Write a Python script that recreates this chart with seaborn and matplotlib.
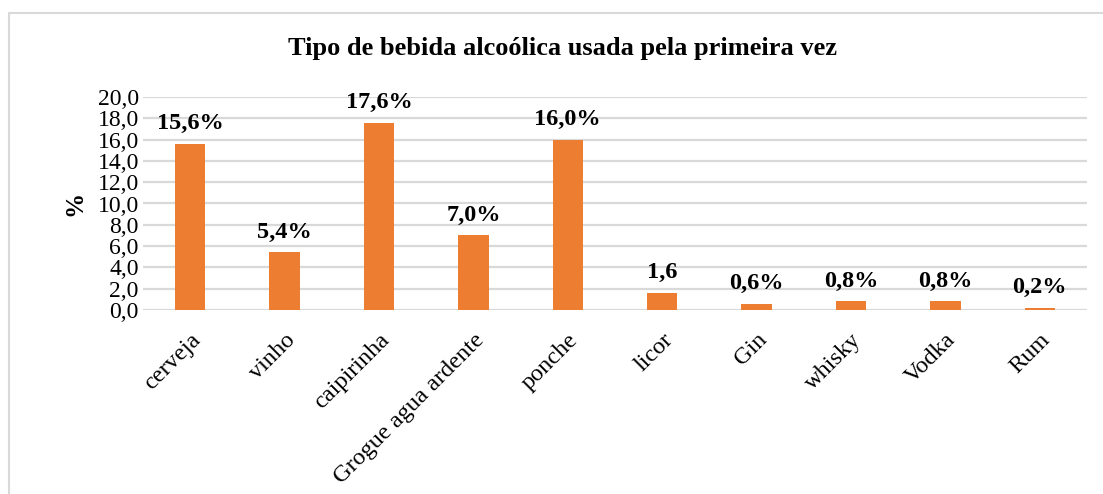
import matplotlib
matplotlib.use("Agg")
import matplotlib.pyplot as plt
import seaborn as sns
import pandas as pd
from matplotlib.lines import Line2D

categories = ["cerveja", "vinho", "caipirinha", "Grogue agua ardente", "ponche",
              "licor", "Gin", "whisky", "Vodka", "Rum"]
values = [15.6, 5.4, 17.6, 7.0, 16.0, 1.6, 0.6, 0.8, 0.8, 0.2]
value_labels = ["15,6%", "5,4%", "17,6%", "7,0%", "16,0%", "1,6", "0,6%", "0,8%", "0,8%", "0,2%"]
yticks = [0, 2, 4, 6, 8, 10, 12, 14, 16, 18, 20]
ytick_labels = ["0,0", "2,0", "4,0", "6,0", "8,0", "10,0", "12,0", "14,0", "16,0", "18,0", "20,0"]
title = "Tipo de bebida alcoólica usada pela primeira vez"

sns.set_theme(style="white")
plt.rcParams["font.family"] = ["Liberation Serif", "DejaVu Serif"]

df = pd.DataFrame({"cat": categories, "val": values})

W, H = 1103, 494
fig = plt.figure(figsize=(W / 100, H / 100), dpi=100)
ax = fig.add_axes([143 / W, 1 - 310 / H, (1087 - 143) / W, (310 - 97) / H])

sns.barplot(data=df, x="cat", y="val", color="#ED7D31", saturation=1, width=0.32, ax=ax,
            edgecolor="none")

ax.set_ylim(0, 20)
ax.set_xlim(-0.5, len(categories) - 0.5)
ax.set_yticks(yticks)
ax.set_yticklabels(ytick_labels, fontsize=17, color="black")
ax.yaxis.grid(True, color="#d9d9d9", linewidth=1.6)
ax.set_axisbelow(True)
for s in ax.spines.values():
    s.set_visible(False)
ax.tick_params(axis="y", length=0, pad=3)
ax.tick_params(axis="x", length=0, pad=14)
ax.set_xticks(range(len(categories)))
ax.set_xticklabels(categories, rotation=45, ha="right", rotation_mode="anchor", fontsize=17.5,
                   color="black")
ax.set_xlabel("")
ax.set_ylabel("%", fontsize=18, fontweight="bold", labelpad=8, color="black")

for i, (v, lab) in enumerate(zip(values, value_labels)):
    ax.annotate(lab, (i, v), xytext=(0, 7), textcoords="offset points",
                ha="center", va="bottom", fontsize=17.5, fontweight="bold",
                annotation_clip=False, color="black")

fig.text(563 / W, 1 - 48 / H, title, ha="center", va="center", fontsize=19, fontweight="bold",
         color="black")

fig.add_artist(Line2D([8.5 / W, 1.01], [1 - 13.5 / H, 1 - 13.5 / H], transform=fig.transFigure,
                      color="#d9d9d9", linewidth=1.5))
fig.add_artist(Line2D([8.5 / W, 8.5 / W], [1 - 13.5 / H, -0.01], transform=fig.transFigure,
                      color="#d9d9d9", linewidth=1.5))

fig.savefig("out.png", dpi=100)
